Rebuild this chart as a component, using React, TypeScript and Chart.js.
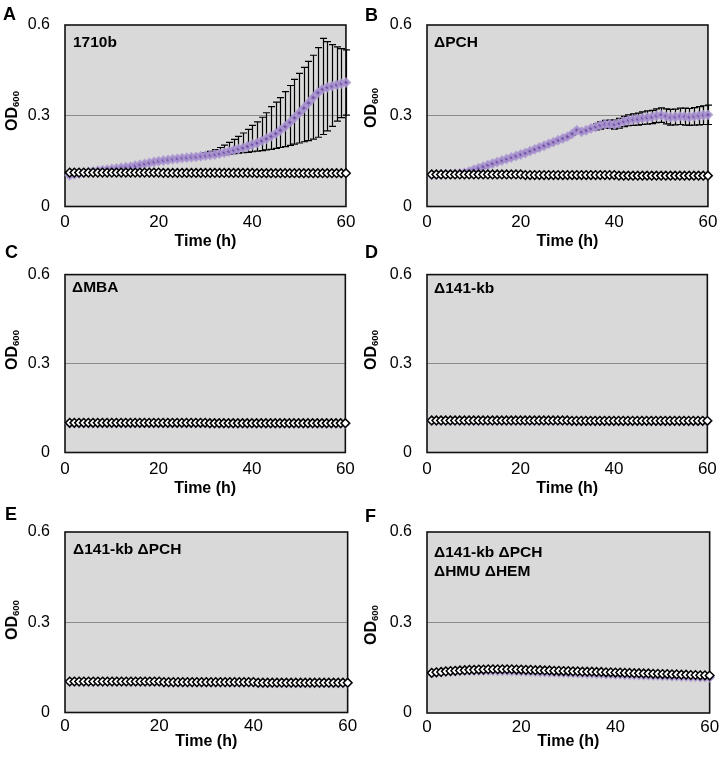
import React, { useEffect, useRef } from "react";
import { Chart, registerables } from "chart.js";
Chart.register(...registerables);

const FONT = "'Liberation Sans', Arial, sans-serif";

// ---------- data ----------
const TIME = [1,2,3,4,5,6,7,8,9,10,11,12,13,14,15,16,17,18,19,20,21,22,23,24,25,26,27,28,29,30,31,32,33,34,35,36,37,38,39,40,41,42,43,44,45,46,47,48,49,50,51,52,53,54,55,56,57,58,59,60];
const X_TICKS = [0, 20, 40, 60];
const Y_TICKS = [0, 0.3, 0.6];

// Panel A: 1710b
const A_MEAN = [0.103,0.106,0.109,0.111,0.114,0.116,0.118,0.120,0.122,0.124,0.126,0.128,0.130,0.132,0.135,0.138,0.141,0.144,0.147,0.150,0.152,0.154,0.156,0.158,0.160,0.161,0.163,0.164,0.166,0.168,0.170,0.172,0.175,0.178,0.182,0.186,0.190,0.194,0.199,0.205,0.210,0.217,0.224,0.232,0.241,0.252,0.264,0.278,0.293,0.309,0.325,0.342,0.360,0.376,0.388,0.394,0.398,0.402,0.406,0.410];
const A_ERR_UP = [0.004,0.004,0.004,0.004,0.004,0.004,0.004,0.004,0.004,0.004,0.004,0.004,0.004,0.004,0.004,0.004,0.004,0.004,0.004,0.004,0.004,0.004,0.004,0.004,0.004,0.004,0.004,0.004,0.004,0.009,0.012,0.016,0.020,0.025,0.030,0.036,0.042,0.049,0.056,0.063,0.070,0.078,0.086,0.098,0.104,0.108,0.116,0.122,0.127,0.131,0.135,0.138,0.140,0.149,0.168,0.151,0.137,0.126,0.116,0.108];
const A_ERR_DN = [0.004,0.004,0.004,0.004,0.004,0.004,0.004,0.004,0.004,0.004,0.004,0.004,0.004,0.004,0.004,0.004,0.004,0.004,0.004,0.004,0.004,0.004,0.004,0.004,0.004,0.004,0.004,0.004,0.004,0.005,0.005,0.005,0.006,0.007,0.009,0.011,0.014,0.016,0.020,0.024,0.027,0.032,0.037,0.043,0.049,0.057,0.066,0.076,0.087,0.099,0.111,0.124,0.137,0.147,0.150,0.144,0.133,0.120,0.112,0.108];
const A_CTRL = [0.112,0.112,0.112,0.112,0.112,0.112,0.112,0.112,0.112,0.112,0.112,0.112,0.112,0.112,0.112,0.112,0.112,0.112,0.112,0.112,0.111,0.111,0.111,0.111,0.111,0.111,0.111,0.111,0.111,0.111,0.111,0.111,0.111,0.111,0.111,0.111,0.111,0.111,0.111,0.111,0.110,0.110,0.110,0.110,0.110,0.110,0.110,0.110,0.110,0.110,0.110,0.110,0.110,0.110,0.110,0.110,0.110,0.110,0.110,0.110];

// Panel B: ΔPCH
const B_MEAN = [0.105,0.105,0.106,0.106,0.107,0.108,0.109,0.111,0.116,0.122,0.127,0.132,0.137,0.142,0.147,0.152,0.157,0.162,0.167,0.172,0.177,0.183,0.189,0.195,0.201,0.207,0.213,0.219,0.225,0.231,0.240,0.252,0.247,0.252,0.258,0.263,0.268,0.272,0.272,0.271,0.275,0.281,0.285,0.287,0.289,0.292,0.294,0.296,0.300,0.302,0.298,0.295,0.296,0.298,0.297,0.296,0.298,0.300,0.302,0.303];
const B_ERR = [0.004,0.004,0.004,0.004,0.004,0.004,0.004,0.004,0.004,0.004,0.004,0.004,0.004,0.004,0.004,0.004,0.004,0.004,0.004,0.004,0.004,0.004,0.004,0.004,0.004,0.004,0.004,0.004,0.004,0.004,0.004,0.004,0.004,0.004,0.004,0.010,0.012,0.013,0.014,0.015,0.016,0.017,0.018,0.019,0.020,0.021,0.022,0.022,0.023,0.024,0.025,0.026,0.026,0.027,0.028,0.028,0.029,0.030,0.031,0.032];
const B_CTRL = [0.106,0.106,0.106,0.106,0.106,0.106,0.106,0.106,0.106,0.106,0.106,0.106,0.106,0.106,0.106,0.106,0.106,0.106,0.106,0.106,0.104,0.104,0.104,0.104,0.104,0.104,0.104,0.104,0.104,0.104,0.104,0.104,0.104,0.104,0.104,0.104,0.104,0.104,0.104,0.104,0.102,0.102,0.102,0.102,0.102,0.102,0.102,0.102,0.102,0.102,0.102,0.102,0.102,0.102,0.102,0.102,0.102,0.102,0.102,0.102];

// Panel C: ΔMBA
const C_MEAN = [0.099,0.099,0.099,0.099,0.099,0.099,0.099,0.099,0.099,0.099,0.099,0.099,0.099,0.099,0.099,0.099,0.099,0.099,0.099,0.099,0.099,0.099,0.099,0.099,0.099,0.099,0.099,0.099,0.099,0.099,0.098,0.098,0.098,0.098,0.098,0.098,0.098,0.098,0.098,0.098,0.098,0.098,0.098,0.098,0.098,0.098,0.098,0.098,0.098,0.098,0.098,0.098,0.098,0.098,0.098,0.098,0.098,0.098,0.098,0.098];
const C_CTRL = [0.100,0.100,0.100,0.100,0.100,0.100,0.100,0.100,0.100,0.100,0.100,0.100,0.100,0.100,0.100,0.100,0.100,0.100,0.100,0.100,0.100,0.100,0.100,0.100,0.100,0.100,0.100,0.100,0.100,0.100,0.099,0.099,0.099,0.099,0.099,0.099,0.099,0.099,0.099,0.099,0.099,0.099,0.099,0.099,0.099,0.099,0.099,0.099,0.099,0.099,0.099,0.099,0.099,0.099,0.099,0.099,0.099,0.099,0.099,0.099];

// Panel D: Δ141-kb
const D_MEAN = [0.107,0.107,0.107,0.107,0.107,0.107,0.107,0.107,0.107,0.107,0.107,0.107,0.107,0.107,0.107,0.107,0.107,0.107,0.107,0.107,0.107,0.107,0.107,0.107,0.107,0.107,0.107,0.107,0.107,0.107,0.106,0.106,0.106,0.106,0.106,0.106,0.106,0.106,0.106,0.106,0.106,0.106,0.106,0.106,0.106,0.106,0.106,0.106,0.106,0.106,0.106,0.106,0.106,0.106,0.106,0.106,0.106,0.106,0.106,0.106];
const D_CTRL = [0.108,0.108,0.108,0.108,0.108,0.108,0.108,0.108,0.108,0.108,0.108,0.108,0.108,0.108,0.108,0.108,0.108,0.108,0.108,0.108,0.108,0.108,0.108,0.108,0.108,0.108,0.108,0.108,0.108,0.108,0.107,0.107,0.107,0.107,0.107,0.107,0.107,0.107,0.107,0.107,0.107,0.107,0.107,0.107,0.107,0.107,0.107,0.107,0.107,0.107,0.107,0.107,0.107,0.107,0.107,0.107,0.107,0.107,0.107,0.107];

// Panel E: Δ141-kb ΔPCH
const E_MEAN = [0.102,0.102,0.102,0.102,0.102,0.102,0.102,0.102,0.102,0.102,0.102,0.102,0.102,0.102,0.102,0.102,0.102,0.102,0.102,0.102,0.100,0.100,0.100,0.100,0.100,0.100,0.100,0.100,0.100,0.100,0.100,0.100,0.100,0.100,0.100,0.100,0.100,0.100,0.100,0.100,0.098,0.098,0.098,0.098,0.098,0.098,0.098,0.098,0.098,0.098,0.098,0.098,0.098,0.098,0.098,0.098,0.098,0.098,0.098,0.098];
const E_CTRL = [0.103,0.103,0.103,0.103,0.103,0.103,0.103,0.103,0.103,0.103,0.103,0.103,0.103,0.103,0.103,0.103,0.103,0.103,0.103,0.103,0.101,0.101,0.101,0.101,0.101,0.101,0.101,0.101,0.101,0.101,0.101,0.101,0.101,0.101,0.101,0.101,0.101,0.101,0.101,0.101,0.099,0.099,0.099,0.099,0.099,0.099,0.099,0.099,0.099,0.099,0.099,0.099,0.099,0.099,0.099,0.099,0.099,0.099,0.099,0.099];

// Panel F: Δ141-kb ΔPCH ΔHMU ΔHEM
const F_MEAN = [0.132,0.134,0.135,0.137,0.138,0.139,0.140,0.140,0.141,0.141,0.141,0.141,0.141,0.141,0.140,0.140,0.140,0.139,0.139,0.138,0.138,0.137,0.137,0.136,0.136,0.135,0.135,0.134,0.134,0.133,0.133,0.132,0.132,0.131,0.131,0.130,0.130,0.129,0.129,0.128,0.128,0.127,0.127,0.126,0.126,0.125,0.125,0.124,0.124,0.123,0.123,0.122,0.122,0.121,0.121,0.120,0.120,0.119,0.119,0.118];
const F_CTRL = [0.133,0.135,0.136,0.138,0.139,0.140,0.141,0.142,0.143,0.143,0.144,0.144,0.145,0.145,0.145,0.145,0.145,0.145,0.144,0.144,0.143,0.143,0.142,0.142,0.141,0.141,0.140,0.140,0.139,0.139,0.138,0.138,0.137,0.137,0.137,0.136,0.136,0.135,0.135,0.134,0.134,0.133,0.133,0.132,0.132,0.131,0.131,0.130,0.130,0.129,0.129,0.128,0.128,0.127,0.127,0.126,0.126,0.125,0.125,0.124];

// ---------- styles / layout ----------
const PLOT_BG = "#d9d9d9";
const GRID = "#8c8c8c";
const PURPLE = "#7054a0";
const PURPLE_HALO = "rgba(172,150,210,0.85)";

type PanelCfg = {
  letter: string; label: string[];
  mean: number[]; ctrl: number[]; errUp?: number[]; errDn?: number[];
  left: number; top: number; w: number; h: number;
  plotL: number; plotR: number; plotT: number; plotB: number;
  xTickPad: number; titlePadB: number;
  letterX: number; letterY: number; labelX: number; labelY: number; odX: number; odY: number;
};

const PANELS: PanelCfg[] = [
  { letter: "A", label: ["1710b"], mean: A_MEAN, ctrl: A_CTRL, errUp: A_ERR_UP, errDn: A_ERR_DN,
    left: 0, top: 0, w: 361, h: 250, plotL: 65, plotR: 350, plotT: 25, plotB: 206.5, xTickPad: 5.6, titlePadB: 0,
    letterX: 3, letterY: 14, labelX: 73, labelY: 42, odX: 13, odY: 111 },
  { letter: "B", label: ["\u0394PCH"], mean: B_MEAN, ctrl: B_CTRL, errUp: B_ERR, errDn: B_ERR,
    left: 361, top: 0, w: 362, h: 250, plotL: 66, plotR: 350, plotT: 25, plotB: 206.5, xTickPad: 5.6, titlePadB: 0,
    letterX: 365, letterY: 14.5, labelX: 434, labelY: 42, odX: 372, odY: 108 },
  { letter: "C", label: ["\u0394MBA"], mean: C_MEAN, ctrl: C_CTRL,
    left: 0, top: 250, w: 361, h: 250, plotL: 65, plotR: 349.5, plotT: 21, plotB: 202.5, xTickPad: 6.2, titlePadB: 3.7,
    letterX: 5, letterY: 251.5, labelX: 72, labelY: 287, odX: 13, odY: 350 },
  { letter: "D", label: ["\u0394141-kb"], mean: D_MEAN, ctrl: D_CTRL,
    left: 361, top: 250, w: 362, h: 250, plotL: 66, plotR: 350, plotT: 21, plotB: 202.5, xTickPad: 6.2, titlePadB: 3.7,
    letterX: 365, letterY: 251.5, labelX: 434, labelY: 288, odX: 372, odY: 350 },
  { letter: "E", label: ["\u0394141-kb \u0394PCH"], mean: E_MEAN, ctrl: E_CTRL,
    left: 0, top: 500, w: 361, h: 263, plotL: 65, plotR: 350, plotT: 32, plotB: 212.5, xTickPad: 3.9, titlePadB: 13.2,
    letterX: 5, letterY: 513.5, labelX: 73, labelY: 549, odX: 13, odY: 620 },
  { letter: "F", label: ["\u0394141-kb \u0394PCH", "\u0394HMU \u0394HEM"], mean: F_MEAN, ctrl: F_CTRL,
    left: 361, top: 500, w: 362, h: 263, plotL: 66, plotR: 350, plotT: 32, plotB: 213, xTickPad: 3.9, titlePadB: 13.2,
    letterX: 365, letterY: 516, labelX: 434, labelY: 552.5, odX: 372, odY: 625 },
];

function Panel({ cfg }: { cfg: PanelCfg }) {
  const ref = useRef<HTMLCanvasElement>(null);
  useEffect(() => {
    const p = cfg;
    const canvas = ref.current as HTMLCanvasElement;

    const bgPlugin = {
      id: "plotBg",
      beforeDraw(chart: any) {
        const { ctx, chartArea: a } = chart;
        ctx.save();
        ctx.fillStyle = PLOT_BG;
        ctx.fillRect(a.left, a.top, a.right - a.left, a.bottom - a.top);
        ctx.restore();
      },
    };

    const framePlugin = {
      id: "frameErr",
      beforeDatasetsDraw(chart: any) {
        const { ctx, chartArea: a } = chart;
        const xs = chart.scales.x, ys = chart.scales.y;
        ctx.save();
        ctx.strokeStyle = "#111";
        ctx.lineWidth = 1.6;
        ctx.strokeRect(a.left, a.top, a.right - a.left, a.bottom - a.top);
        if (p.errUp && p.errDn) {
          ctx.strokeStyle = "#000";
          ctx.lineWidth = 1.2;
          for (let i = 0; i < TIME.length; i++) {
            const x = Math.round(xs.getPixelForValue(TIME[i])) + 0.5;
            const yt = ys.getPixelForValue(p.mean[i] + p.errUp[i]);
            const yb = ys.getPixelForValue(p.mean[i] - p.errDn[i]);
            ctx.beginPath();
            ctx.moveTo(x, yt); ctx.lineTo(x, yb);
            ctx.moveTo(x - 3.5, yt); ctx.lineTo(x + 3.5, yt);
            ctx.moveTo(x - 3.5, yb); ctx.lineTo(x + 3.5, yb);
            ctx.stroke();
          }
        }
        ctx.restore();
      },
    };

    const chart = new Chart(canvas, {
      type: "scatter",
      data: {
        datasets: [
          {
            label: "control",
            data: TIME.map((t, i) => ({ x: t, y: p.ctrl[i] })),
            pointStyle: "rectRot",
            pointRadius: 4.3,
            pointBackgroundColor: "#ffffff",
            pointBorderColor: "#000000",
            pointBorderWidth: 1.5,
            showLine: false,
            order: 0,
            clip: false,
          } as any,
          {
            label: "strain",
            data: TIME.map((t, i) => ({ x: t, y: p.mean[i] })),
            pointStyle: "rectRot",
            pointRadius: 3.6,
            pointBackgroundColor: PURPLE,
            pointBorderColor: PURPLE_HALO,
            pointBorderWidth: 2.6,
            showLine: false,
            order: 1,
            clip: false,
          } as any,
        ],
      },
      options: {
        animation: false,
        responsive: false,
        devicePixelRatio: 1,
        events: [],
        layout: { padding: { left: 0, top: p.plotT, right: p.w - p.plotR, bottom: 0 } },
        plugins: { legend: { display: false }, tooltip: { enabled: false } },
        scales: {
          x: {
            type: "linear",
            min: 0,
            max: 60,
            afterBuildTicks: (s: any) => { s.ticks = X_TICKS.map((v) => ({ value: v })); },
            afterFit: (s: any) => { s.height = p.h - p.plotB; },
            grid: { display: false, drawTicks: false },
            border: { display: false },
            ticks: { padding: p.xTickPad, color: "#000", maxRotation: 0, font: { family: FONT, size: 17 } },
            title: {
              display: true, text: "Time (h)", color: "#000",
              font: { family: FONT, size: 16, weight: "bold", lineHeight: 1 },
              padding: { top: 0, bottom: p.titlePadB },
            },
          },
          y: {
            type: "linear",
            min: 0,
            max: 0.6,
            afterBuildTicks: (s: any) => { s.ticks = Y_TICKS.map((v) => ({ value: v })); },
            afterFit: (s: any) => { s.width = p.plotL; },
            grid: {
              drawTicks: false,
              lineWidth: 1,
              color: (c: any) => (c.tick && Math.abs(c.tick.value - 0.3) < 1e-9 ? GRID : "rgba(0,0,0,0)"),
            },
            border: { display: false },
            ticks: { padding: 15, color: "#000", font: { family: FONT, size: 16 }, callback: (v: any) => String(v) },
          },
        },
      } as any,
      plugins: [bgPlugin, framePlugin],
    });
    return () => chart.destroy();
  }, [cfg]);

  return (
    <canvas
      ref={ref}
      width={cfg.w}
      height={cfg.h}
      style={{ position: "absolute", left: cfg.left, top: cfg.top, width: cfg.w, height: cfg.h }}
    />
  );
}

export default function App() {
  return (
    <div style={{ position: "absolute", left: 0, top: 0, width: 723, height: 763, background: "#fff", fontFamily: FONT, color: "#000" }}>
      {PANELS.map((p) => (
        <Panel key={p.letter} cfg={p} />
      ))}
      {PANELS.map((p) => (
        <React.Fragment key={"t" + p.letter}>
          <div style={{ position: "absolute", left: p.letterX, top: p.letterY - 9, fontSize: 18, lineHeight: "18px", fontWeight: "bold", whiteSpace: "nowrap" }}>
            {p.letter}
          </div>
          <div style={{ position: "absolute", left: p.labelX, top: p.labelY - 9.25, fontSize: 15.5, lineHeight: "18.5px", fontWeight: "bold", whiteSpace: "nowrap" }}>
            {p.label.map((l, i) => (
              <div key={i}>{l}</div>
            ))}
          </div>
          <div
            style={{
              position: "absolute", left: p.odX, top: p.odY,
              transform: "translate(-50%, -50%) rotate(-90deg)",
              fontSize: 16, lineHeight: "16px", fontWeight: "bold", whiteSpace: "nowrap",
            }}
          >
            OD<span style={{ fontSize: 9.5, position: "relative", top: 2 }}>600</span>
          </div>
        </React.Fragment>
      ))}
    </div>
  );
}
